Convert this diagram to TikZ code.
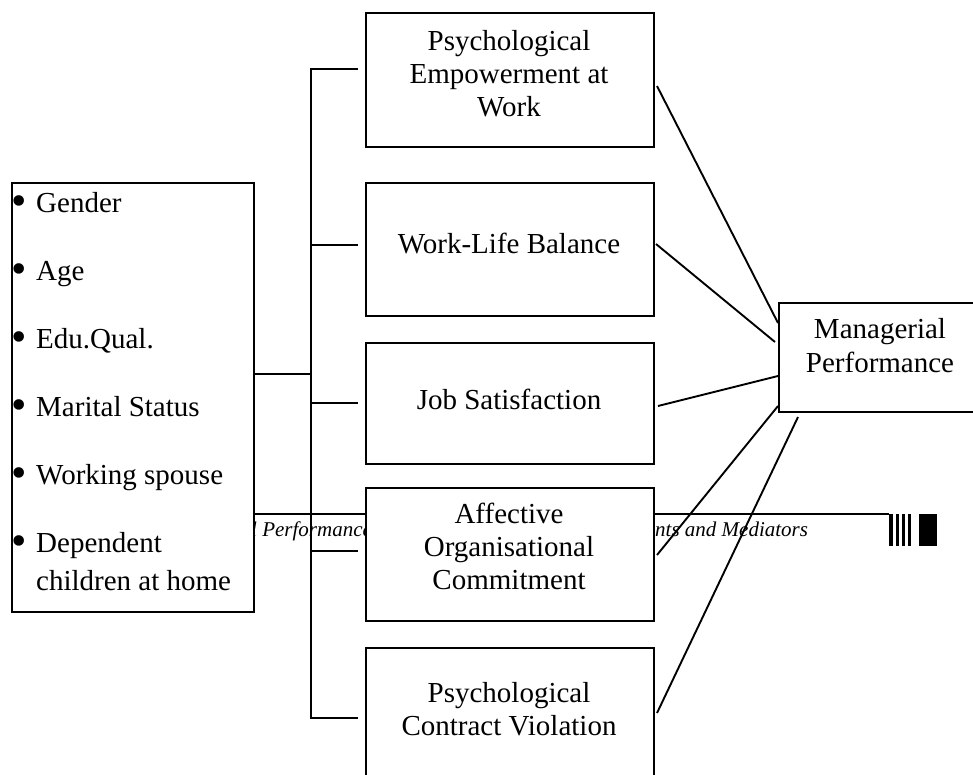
\documentclass[tikz,border=0pt]{standalone}
\usepackage{fontspec}
\setmainfont{Liberation Serif}
\usetikzlibrary{calc}
\newcommand{\mylines}[1]{\begin{tabular}[t]{@{}c@{}}#1\end{tabular}}
\newcommand{\mybul}{\raisebox{-3.5pt}{\fontsize{44}{44}\selectfont •}}
\begin{document}
\begin{tikzpicture}[x=1pt,y=-1pt,
  box/.style={draw, line width=2pt, fill=white, inner sep=0pt, anchor=north west},
  lbl/.style={font=\fontsize{29}{33}\selectfont, inner sep=0pt, anchor=base},
  hdr/.style={font=\fontsize{21}{22}\selectfont\itshape, text=black, inner sep=0pt, anchor=base west},
  conn/.style={line width=1.9pt}]
\useasboundingbox (0,0) rectangle (973,774);
\clip (0,0) rectangle (973,774);

% running header artefact
\coordinate (hl) at (253,514);
\coordinate (hr) at (889,514);
\draw[line width=1.6pt] (hl) -- (hr);
\node[hdr] (h1) at (251,536) {l Performance};
\node[hdr] (h2) at (655,536) {nts and Mediators};
\fill (889,514) rectangle (892.5,546);
\fill (895.5,514) rectangle (898.5,546);
\fill (901.5,514) rectangle (904.5,546);
\fill (907.5,514) rectangle (911,546);
\fill (918.5,514) rectangle (937,546);

% boxes
\node[box, minimum width=242pt, minimum height=429pt] (demo) at (11,182) {};
\node[box, minimum width=288pt, minimum height=134pt] (b1) at (365,12) {};
\node[box, minimum width=288pt, minimum height=133pt] (b2) at (365,182) {};
\node[box, minimum width=288pt, minimum height=121pt] (b3) at (365,342) {};
\node[box, minimum width=288pt, minimum height=133pt] (b4) at (365,487) {};
\node[box, minimum width=288pt, minimum height=140pt] (b5) at (365,647) {};
\node[box, minimum width=210pt, minimum height=109pt] (mp) at (778,302) {};

% texts
\node[lbl, anchor=base west] (tdemo) at (11,212) {\fontsize{29}{38}\selectfont
  \begin{tabular}[t]{@{}p{25pt}@{}l@{}}
  \mybul&Gender\\[30pt]
  \mybul&Age\\[30pt]
  \mybul&Edu.Qual.\\[30pt]
  \mybul&Marital Status\\[30pt]
  \mybul&Working spouse\\[30pt]
  \mybul&Dependent\\
  &children at home
  \end{tabular}};
\node[lbl] (t1) at (509,50) {\mylines{Psychological\\Empowerment at\\Work}};
\node[lbl] (t2) at (509,253) {\mylines{Work-Life Balance}};
\node[lbl] (t3) at (509,409) {\mylines{Job Satisfaction}};
\node[lbl] (t4) at (509,523) {\mylines{Affective\\Organisational\\Commitment}};
\node[lbl] (t5) at (509,702) {\mylines{Psychological\\Contract Violation}};
\node[lbl] (tm) at (880,338) {\fontsize{29}{34}\selectfont\mylines{Managerial\\Performance}};

% bus connectors
\coordinate (j0) at (311,374);
\coordinate (j1) at (311,69);
\coordinate (j2) at (311,245);
\coordinate (j3) at (311,403);
\coordinate (j4) at (311,551);
\coordinate (j5) at (311,718);
\draw[conn] (demo.east |- j0) -- (j0);
\draw[conn] ($(j1 -| b1.west)+(-7,0)$) -- (j1) -- (j5) -- ($(j5 -| b5.west)+(-7,0)$);
\draw[conn] (j2) -- ($(j2 -| b2.west)+(-7,0)$);
\draw[conn] (j3) -- ($(j3 -| b3.west)+(-7,0)$);
\draw[conn] (j4) -- ($(j4 -| b4.west)+(-7,0)$);

% lines to managerial performance
\draw[conn] ([shift={(2,6)}]b1.east) -- ([shift={(0,-34.5)}]mp.west);
\draw[conn] ([shift={(1,-5.5)}]b2.east) -- ([shift={(-3,-15.5)}]mp.west);
\draw[conn] ([shift={(3,2.5)}]b3.east) -- ([shift={(0,18.5)}]mp.west);
\draw[conn] ([shift={(2,0.5)}]b4.east) -- ([shift={(0,48.5)}]mp.west);
\draw[conn] ([shift={(2,-5)}]b5.east) -- ([shift={(20,4)}]mp.south west);
\end{tikzpicture}
\end{document}
